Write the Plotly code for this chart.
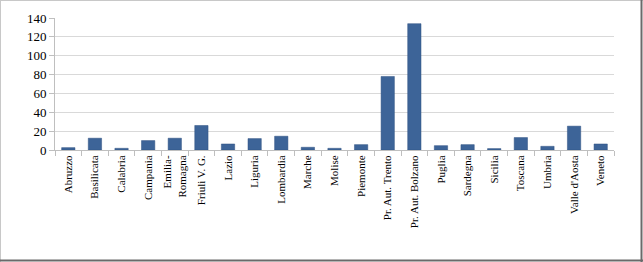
import plotly.graph_objects as go

regions = ["Abruzzo", "Basilicata", "Calabria", "Campania", "Emilia-<br>Romagna",
           "Friuli V. G.", "Lazio", "Liguria", "Lombardia", "Marche", "Molise",
           "Piemonte", "Pr. Aut. Trento", "Pr. Aut. Bolzano", "Puglia", "Sardegna",
           "Sicilia", "Toscana", "Umbria", "Valle d'Aosta", "Veneto"]
values = [2.5, 12.5, 1.8, 10, 12.5, 26, 6.4, 12.1, 14.6, 2.9, 1.8,
          5.7, 78, 134, 4.6, 5.7, 1.5, 13.2, 3.9, 25.3, 6.4]
y_ticks = [0, 20, 40, 60, 80, 100, 120, 140]

W, H = 643, 262
ML, MR, MT, MB = 55, 29, 18, 112
pw, ph = W - ML - MR, H - MT - MB

def px(x):
    return (x - ML) / pw

def py(y):
    return (H - MB - y) / ph

fig = go.Figure(go.Bar(
    x=regions, y=values,
    marker=dict(color="#3d6498", line=dict(color="#2f5080", width=0.5)),
))

xfont = dict(family="Liberation Serif, Times New Roman, serif", size=11, color="#000000")
yfont = dict(family="Liberation Serif, Times New Roman, serif", size=13, color="#000000")

fig.update_layout(
    width=W, height=H,
    margin=dict(l=ML, r=MR, t=MT, b=MB),
    paper_bgcolor="white", plot_bgcolor="white",
    bargap=0.5, showlegend=False,
    font=xfont,
    xaxis=dict(
        tickangle=-90, tickfont=xfont, showgrid=False,
        showline=True, linecolor="#bfbfbf", linewidth=1,
        ticks="outside", ticklen=5, tickcolor="#bfbfbf",
        tickson="boundaries", zeroline=False,
    ),
    yaxis=dict(
        range=[0, 140], tickvals=y_ticks, tickfont=yfont,
        showgrid=True, gridcolor="#d9d9d9", gridwidth=1,
        showline=True, linecolor="#bfbfbf", linewidth=1,
        ticks="outside", ticklen=5, tickcolor="#bfbfbf",
        zeroline=False,
    ),
    shapes=[
        dict(type="line", xref="paper", yref="paper", x0=px(0), x1=px(W), y0=py(0.5), y1=py(0.5),
             line=dict(color="#c8c8c8", width=1)),
        dict(type="line", xref="paper", yref="paper", x0=px(0.5), x1=px(0.5), y0=py(0), y1=py(H),
             line=dict(color="#c8c8c8", width=1)),
        dict(type="line", xref="paper", yref="paper", x0=px(0), x1=px(W), y0=py(H - 1.5), y1=py(H - 1.5),
             line=dict(color="#6a6a6a", width=2)),
        dict(type="line", xref="paper", yref="paper", x0=px(W - 1.5), x1=px(W - 1.5), y0=py(0), y1=py(H),
             line=dict(color="#6a6a6a", width=2)),
    ],
)

fig.write_html("out.html")
